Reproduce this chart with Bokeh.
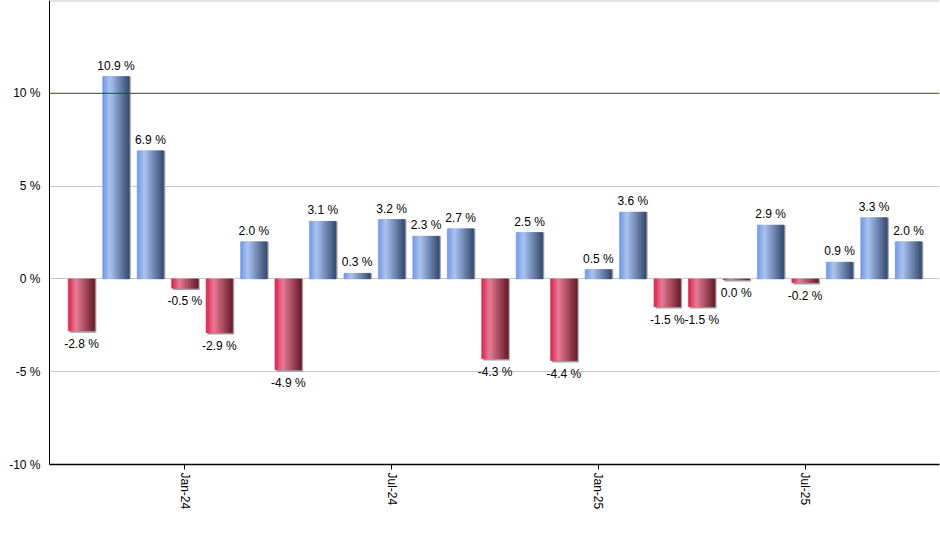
import numpy as np
from bokeh.plotting import figure
from bokeh.models import ColumnDataSource, FixedTicker, Span, Range1d
from bokeh.embed import file_html
from bokeh.resources import INLINE
from bokeh.core.properties import value

months = ["Oct-23", "Nov-23", "Dec-23", "Jan-24", "Feb-24", "Mar-24", "Apr-24",
          "May-24", "Jun-24", "Jul-24", "Aug-24", "Sep-24", "Oct-24", "Nov-24",
          "Dec-24", "Jan-25", "Feb-25", "Mar-25", "Apr-25", "May-25", "Jun-25",
          "Jul-25", "Aug-25", "Sep-25", "Oct-25"]
returns = [-2.8, 10.9, 6.9, -0.5, -2.9, 2.0, -4.9, 3.1, 0.3, 3.2, 2.3, 2.7, -4.3,
           2.5, -4.4, 0.5, 3.6, -1.5, -1.5, -0.04, 2.9, -0.2, 0.9, 3.3, 2.0]
tick_labels = ["Jan-24", "Jul-24", "Jan-25", "Jul-25"]
y_ticks = [-10, -5, 0, 5, 10]

FONT = "Liberation Sans"
BAR_W = 0.77
N_STRIPS = 18

blue_stops = [(0.0, (106, 147, 230)), (0.28, (172, 198, 244)), (1.0, (52, 73, 112))]
red_stops = [(0.0, (222, 24, 70)), (0.3, (234, 124, 150)), (1.0, (104, 24, 40))]


def interp(stops, t):
    for (t0, c0), (t1, c1) in zip(stops[:-1], stops[1:]):
        if t0 <= t <= t1:
            f = (t - t0) / (t1 - t0)
            c = [round(a + (b - a) * f) for a, b in zip(c0, c1)]
            return "#%02x%02x%02x" % tuple(c)
    return "#%02x%02x%02x" % stops[-1][1]


xs = list(range(len(months)))

p = figure(width=940, height=550, output_backend="svg", toolbar_location=None,
           x_range=Range1d(-0.93, 24.9), y_range=Range1d(-10, 15.0),
           min_border_left=49, min_border_right=1, min_border_top=0,
           min_border_bottom=86)
p.outline_line_color = None
p.background_fill_color = "white"
p.border_fill_color = "white"

# shadows
sh = dict(x=[], top=[], bottom=[])
for x, v in zip(xs, returns):
    sh["x"].append(x + 0.045)
    sh["top"].append(max(v, 0))
    sh["bottom"].append(min(v, 0) - (0.1 if v < 0 else 0))
p.vbar(x="x", top="top", bottom="bottom", width=BAR_W, source=ColumnDataSource(sh),
       fill_color="#a0a0a0", line_color=None)

# gradient strips
st = dict(x=[], top=[], bottom=[], color=[])
sw = BAR_W / N_STRIPS
for x, v in zip(xs, returns):
    stops = blue_stops if v >= 0 else red_stops
    for k in range(N_STRIPS):
        t = (k + 0.5) / N_STRIPS
        st["x"].append(x - BAR_W / 2 + (k + 0.5) * sw)
        st["top"].append(max(v, 0))
        st["bottom"].append(min(v, 0))
        st["color"].append(interp(stops, t))
p.vbar(x="x", top="top", bottom="bottom", width=sw, source=ColumnDataSource(st),
       fill_color="color", line_color="color", line_width=0.6)

# labels


def fmt(v):
    s = f"{v:.1f}"
    if s == "-0.0":
        s = "0.0"
    return s + " %"


pos = dict(x=[x for x, v in zip(xs, returns) if v >= 0],
           y=[v for v in returns if v >= 0],
           t=[fmt(v) for v in returns if v >= 0])
neg = dict(x=[x for x, v in zip(xs, returns) if v < 0],
           y=[v for v in returns if v < 0],
           t=[fmt(v) for v in returns if v < 0])
p.text(x="x", y="y", text="t", source=ColumnDataSource(pos), text_align="center",
       text_baseline="bottom", y_offset=-4, text_font=value(FONT),
       text_font_size="12px", text_color="black")
p.text(x="x", y="y", text="t", source=ColumnDataSource(neg), text_align="center",
       text_baseline="top", y_offset=6, text_font=value(FONT),
       text_font_size="12px", text_color="black")

# grid
p.xgrid.visible = False
p.ygrid.ticker = FixedTicker(ticks=[-5, 0, 5])
p.ygrid.grid_line_color = "#c8c8c8"
p.add_layout(Span(location=10, dimension="width", line_color="#006400", line_width=1))
p.add_layout(Span(location=15.0, dimension="width", line_color="#c8c8c8", line_width=2))

# axes
p.yaxis.ticker = FixedTicker(ticks=y_ticks)
p.yaxis.major_label_overrides = {t: f"{t} %" for t in y_ticks}
p.yaxis.major_tick_line_color = None
p.yaxis.minor_tick_line_color = None
p.yaxis.axis_line_color = "black"
p.yaxis.major_label_standoff = 3
p.yaxis.major_label_text_font = FONT
p.yaxis.major_label_text_font_size = "12px"
p.yaxis.major_label_text_color = "black"

tick_pos = [months.index(t) for t in tick_labels]
p.xaxis.ticker = FixedTicker(ticks=tick_pos)
p.xaxis.major_label_overrides = {tp: t for tp, t in zip(tick_pos, tick_labels)}
p.xaxis.major_label_orientation = "vertical"
p.xaxis.major_tick_in = 0
p.xaxis.major_tick_out = 5
p.xaxis.minor_tick_line_color = None
p.xaxis.axis_line_color = "black"
p.xaxis.axis_line_width = 1.5
p.xaxis.major_tick_line_color = "black"
p.xaxis.major_label_standoff = 3
p.xaxis.major_label_text_font = FONT
p.xaxis.major_label_text_font_size = "12px"
p.xaxis.major_label_text_color = "black"

open("out.html", "w").write(file_html(p, INLINE))
